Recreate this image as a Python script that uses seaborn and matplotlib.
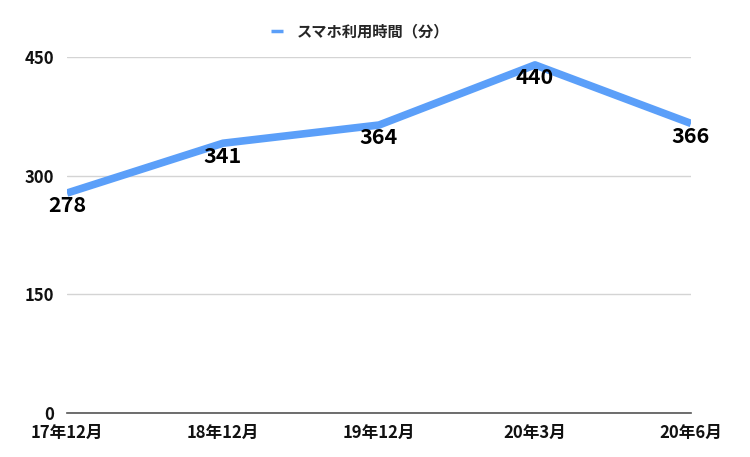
import matplotlib.pyplot as plt
import seaborn as sns
import pandas as pd

# data
periods = ["17年12月", "18年12月", "19年12月", "20年3月", "20年6月"]
minutes = [278, 341, 364, 440, 366]
series_name = "スマホ利用時間（分）"

df = pd.DataFrame({"period": range(len(periods)), "minutes": minutes})

sns.set_theme(style="white")
plt.rcParams['font.family'] = ['Noto Sans CJK JP', 'DejaVu Sans']

fig = plt.figure(figsize=(7.5, 4.57), dpi=100)
ax = fig.add_axes([67 / 750, 1 - 413 / 457, (691 - 67) / 750, (413 - 57) / 457])

line_color = "#5B9FF9"
sns.lineplot(data=df, x="period", y="minutes", color=line_color, linewidth=5.5,
             solid_capstyle="butt", label=series_name, ax=ax, zorder=3)

# value labels just below each point
for i, v in enumerate(minutes):
    ax.text(i, v - 3, str(v), ha="center", va="top", fontsize=15.5,
            fontweight="bold", color="black", zorder=4)

ax.set_xlim(0, len(periods) - 1)
ax.set_ylim(0, 450)
ax.set_yticks([0, 150, 300, 450])
ax.set_xticks(range(len(periods)))
ax.set_xticklabels(periods)
ax.set_xlabel("")
ax.set_ylabel("")

for lab in ax.get_xticklabels() + ax.get_yticklabels():
    lab.set_fontsize(12)
    lab.set_fontweight("bold")
    lab.set_color("#111111")

ax.tick_params(axis="y", length=0, pad=9)
ax.tick_params(axis="x", length=0, pad=8)
ax.yaxis.grid(True, color="#d4d4d4", linewidth=1)
ax.set_axisbelow(True)
for side in ["top", "right", "left"]:
    ax.spines[side].set_visible(False)
ax.spines["bottom"].set_color("#555555")
ax.spines["bottom"].set_linewidth(1.2)
ax.spines["bottom"].set_zorder(2)

leg = ax.legend(loc="lower center", bbox_to_anchor=(0.47, 1.01), frameon=False,
                handlelength=0.8, handletextpad=0.9,
                prop={"weight": "bold", "size": 11})
for h in leg.get_lines():
    h.set_linewidth(2.5)

fig.savefig("out.png", dpi=100)
